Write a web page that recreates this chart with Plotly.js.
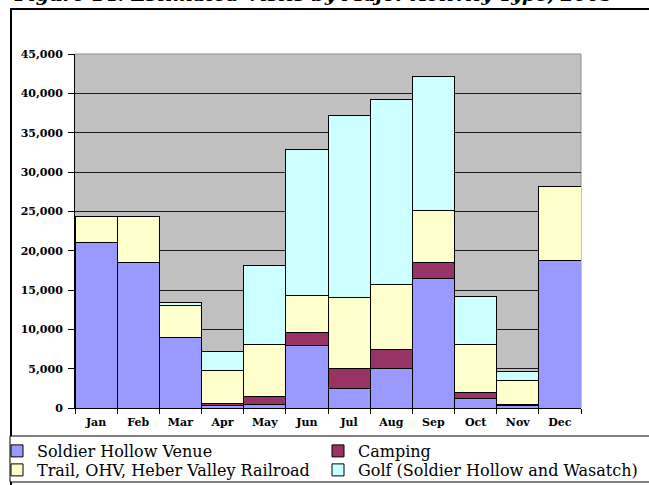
<!DOCTYPE html>
<html>
<head>
<meta charset="utf-8">
<script src="https://cdn.plot.ly/plotly-3.0.1.min.js"></script>
<style>
html, body { margin: 0; padding: 0; background: #ffffff; }
#chart { width: 649px; height: 485px; }
</style>
</head>
<body>
<div id="chart"></div>
<script>
const months = ["Jan", "Feb", "Mar", "Apr", "May", "Jun", "Jul", "Aug", "Sep", "Oct", "Nov", "Dec"];
const soldierHollow = [21000, 18500, 9000, 350, 500, 8000, 2500, 5000, 16500, 1200, 350, 18800];
const camping = [0, 0, 0, 200, 1000, 1550, 2500, 2500, 1950, 800, 50, 0];
const trail = [3400, 5800, 4050, 4250, 6600, 4700, 9100, 8200, 6650, 6100, 3100, 9300];
const golf = [0, 0, 300, 2400, 10000, 18600, 23100, 23500, 17050, 6050, 1100, 0];
const seriesNames = ["Soldier Hollow Venue", "Camping", "Trail, OHV, Heber Valley Railroad", "Golf (Soldier Hollow and Wasatch)"];
const titleText = "Figure 14: Estimated Visits by Major Activity Type, 2005";

const serif = "DejaVu Serif, Liberation Serif, serif";
const line = { color: "#000000", width: 1 };

const traces = [
  { type: "bar", x: months, y: soldierHollow, name: seriesNames[0], legend: "legend",
    marker: { color: "#9999FF", line: line }, hoverinfo: "skip" },
  { type: "bar", x: months, y: camping, name: seriesNames[1], legend: "legend2",
    marker: { color: "#993366", line: line }, hoverinfo: "skip" },
  { type: "bar", x: months, y: trail, name: seriesNames[2], legend: "legend3",
    marker: { color: "#FFFFCC", line: line }, hoverinfo: "skip" },
  { type: "bar", x: months, y: golf, name: seriesNames[3], legend: "legend4",
    marker: { color: "#CCFFFF", line: line }, hoverinfo: "skip" }
];

// plot area in px: x 75..581, y 54..408
const L = 75, T = 54, W = 506, H = 354;
const px = v => (v - L) / W;
const py = v => (T + H - v) / H;

const legendFont = { family: serif, size: 16, color: "#000000" };
function legendAt(left, top) {
  return {
    xref: "paper", yref: "paper",
    orientation: "v", x: px(left), xanchor: "left", y: py(top), yanchor: "top",
    bgcolor: "rgba(0,0,0,0)", borderwidth: 0, font: legendFont
  };
}

const layout = {
  width: 649, height: 485,
  margin: { l: L, r: 649 - L - W, t: T, b: 485 - T - H, pad: 0, autoexpand: false },
  paper_bgcolor: "#ffffff",
  plot_bgcolor: "#C0C0C0",
  barmode: "stack",
  bargap: 0,
  showlegend: true,
  xaxis: {
    type: "category",
    automargin: false,
    showline: true, linecolor: "#000000", linewidth: 1,
    ticks: "outside", tickson: "boundaries", ticklen: 5, tickcolor: "#000000",
    ticklabelstandoff: 4,
    showgrid: false, zeroline: false,
    tickfont: { family: serif, size: 11, color: "#000000", weight: "bold" }
  },
  yaxis: {
    automargin: false,
    range: [0, 45000], dtick: 5000, tick0: 0,
    tickformat: ",d",
    showline: true, linecolor: "#000000", linewidth: 1,
    ticks: "outside", ticklen: 6, tickcolor: "#000000",
    showgrid: true, gridcolor: "#1a1a1a", gridwidth: 1,
    zeroline: false,
    ticklabelstandoff: 3,
    tickfont: { family: serif, size: 11, color: "#000000", weight: "bold" }
  },
  legend: legendAt(-3, 434),
  legend2: legendAt(318, 434),
  legend3: legendAt(-3, 453),
  legend4: legendAt(318, 453),
  shapes: [
    // outer chart frame
    { type: "rect", xref: "paper", yref: "paper", x0: px(11), x1: px(700), y0: py(9), y1: py(540),
      line: { color: "#000000", width: 2 }, fillcolor: "rgba(0,0,0,0)", layer: "below" },
    // legend frame
    { type: "rect", xref: "paper", yref: "paper", x0: px(10), x1: px(700), y0: py(436), y1: py(482),
      line: { color: "#000000", width: 1 }, fillcolor: "#ffffff", layer: "below" },
    // plot area top & right edges
    { type: "line", xref: "paper", yref: "paper", x0: 0, x1: 1, y0: 1, y1: 1,
      line: { color: "#8c8c8c", width: 1 }, layer: "below" },
    { type: "line", xref: "paper", yref: "paper", x0: 1, x1: 1, y0: 0, y1: 1,
      line: { color: "#8c8c8c", width: 1 }, layer: "below" }
  ],
  annotations: [
    { xref: "paper", yref: "paper", x: px(12), y: py(7), xanchor: "left", yanchor: "bottom",
      showarrow: false, text: "<b><i>" + titleText + "</i></b>",
      font: { family: serif, size: 19, color: "#000000" } }
  ]
};

Plotly.newPlot("chart", traces, layout, { staticPlot: true, displayModeBar: false });
</script>
</body>
</html>
